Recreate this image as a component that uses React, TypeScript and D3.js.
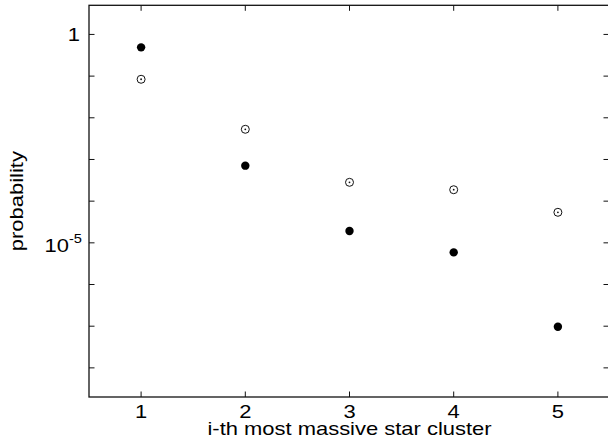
import React from "react";
import * as d3 from "d3";

// cluster rank on the x axis
const ranks = [1, 2, 3, 4, 5];
// filled dots
const probFilled = [0.49, 7.1e-4, 1.92e-5, 5.9e-6, 9.7e-8];
// open dots with a centre point
const probOpen = [0.084, 5.3e-3, 2.83e-4, 1.88e-4, 5.4e-5];
// one tick per decade
const decades = [1, 0.1, 1e-2, 1e-3, 1e-4, 1e-5, 1e-6, 1e-7, 1e-8];

const W = 608;
const H = 442;
const left = 89;
const right = 610;
const top = 5.3;
const bottom = 397;
const FONT = "'Liberation Sans', Arial, Helvetica, sans-serif";
const SX = 1.22;

export default function App() {
  const x = d3.scaleLinear().domain([0.5, 5.5]).range([left, right]);
  const y = d3.scaleLog().domain([2e-9, 5]).range([bottom, top]);
  const tl = 5.5;

  return (
    <svg
      width={W}
      height={H}
      style={{ position: "absolute", left: 0, top: 0, background: "#fff" }}
      fontFamily={FONT}
    >
      {/* frame */}
      <rect x={left} y={top} width={right - left} height={bottom - top} fill="none" stroke="#111" strokeWidth={1.3} />

      {/* x ticks */}
      {ranks.map((r) => (
        <g key={"xt" + r}>
          <line x1={x(r)} x2={x(r)} y1={bottom} y2={bottom - tl} stroke="#111" />
          <line x1={x(r)} x2={x(r)} y1={top} y2={top + tl} stroke="#111" />
          <text transform={`translate(${x(r)},418) scale(${SX},1)`} textAnchor="middle" fontSize={18}>
            {r}
          </text>
        </g>
      ))}

      {/* y ticks */}
      {decades.map((d, i) => (
        <g key={"yt" + i}>
          <line x1={left} x2={left + tl} y1={y(d)} y2={y(d)} stroke="#111" />
          <line x1={right - 1} x2={right - 1 - tl} y1={y(d)} y2={y(d)} stroke="#111" />
        </g>
      ))}
      <text transform={`translate(80,${y(1) + 6.5}) scale(${SX},1)`} textAnchor="end" fontSize={18}>
        1
      </text>
      <g transform={`translate(82,${y(1e-5) + 9.5}) scale(${SX},1)`}>
        <text textAnchor="end" fontSize={18}>
          10
          <tspan fontSize={12} dy={-9}>-5</tspan>
        </text>
      </g>

      {/* axis labels */}
      <text transform={`translate(${(left + right) / 2},435) scale(${SX},1)`} textAnchor="middle" fontSize={18}>
        i-th most massive star cluster
      </text>
      <text transform={`translate(23,${(top + bottom) / 2}) rotate(-90) scale(${SX},1)`} textAnchor="middle" fontSize={18}>
        probability
      </text>

      {/* markers */}
      {ranks.map((r, i) => (
        <g key={"o" + r}>
          <circle cx={x(r)} cy={y(probOpen[i])} r={4} fill="none" stroke="#111" strokeWidth={1} />
          <circle cx={x(r)} cy={y(probOpen[i])} r={0.9} fill="#111" />
        </g>
      ))}
      {ranks.map((r, i) => (
        <circle key={"f" + r} cx={x(r)} cy={y(probFilled[i])} r={4.2} fill="#000" />
      ))}
    </svg>
  );
}
